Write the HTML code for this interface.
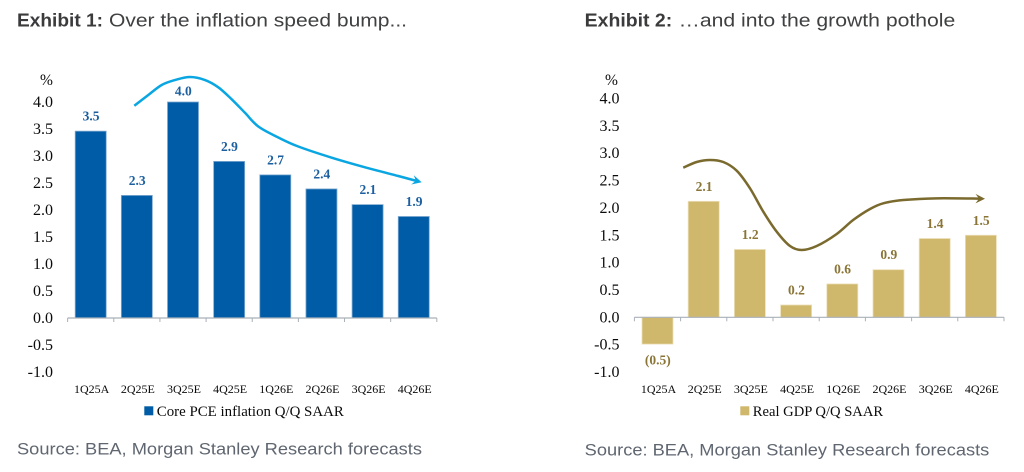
<!DOCTYPE html>
<html lang="en">
<head>
<meta charset="utf-8">
<title>Exhibits 1 and 2</title>
<style>
html,body{margin:0;padding:0;background:#fff;width:1024px;height:472px;overflow:hidden}
svg{display:block}
.title{font-family:"Liberation Sans",sans-serif;font-size:18.5px;fill:#3f4042}
.title-bold{font-weight:700;fill:#3b3b3d}
.source{font-family:"Liberation Sans",sans-serif;font-size:17px;fill:#5f6670}
.serif{font-family:"Liberation Serif",serif;fill:#0b0b0b}
.ytick{font-size:16px}
.cat{font-size:12px}
.legend{font-size:15px}
.val{font-size:13.5px;font-weight:700}
</style>
</head>
<body>
<svg id="root" xmlns="http://www.w3.org/2000/svg" width="1024" height="472" viewBox="0 0 1024 472">
  <g>
    <text class="title title-bold" x="17" y="26.5" textLength="86" lengthAdjust="spacingAndGlyphs">Exhibit 1:</text>
    <text class="title" x="109" y="26.5" textLength="298" lengthAdjust="spacingAndGlyphs">Over the inflation speed bump...</text>
  </g>
  <g>
    <text class="title title-bold" x="584.7" y="26.5" textLength="87.5" lengthAdjust="spacingAndGlyphs">Exhibit 2:</text>
    <text class="title" x="678.7" y="26.5" textLength="276.6" lengthAdjust="spacingAndGlyphs">…and into the growth pothole</text>
  </g>
  <g id="chart1"></g>
  <g id="chart2"></g>
  <text class="source" x="17" y="454.5" textLength="405" lengthAdjust="spacingAndGlyphs">Source: BEA, Morgan Stanley Research forecasts</text>
  <text class="source" x="584.7" y="455.5" textLength="404.6" lengthAdjust="spacingAndGlyphs">Source: BEA, Morgan Stanley Research forecasts</text>
</svg>
<script>
const categories = ['1Q25A','2Q25E','3Q25E','4Q25E','1Q26E','2Q26E','3Q26E','4Q26E'];
const yTickLabels = ['4.0','3.5','3.0','2.5','2.0','1.5','1.0','0.5','0.0','-0.5','-1.0'];
const yTickValues = [4,3.5,3,2.5,2,1.5,1,0.5,0,-0.5,-1];

const inflationValues = [3.46,2.27,4.0,2.9,2.65,2.39,2.1,1.88];
const inflationLabels = ['3.5','2.3','4.0','2.9','2.7','2.4','2.1','1.9'];
const inflationTrendIndex = [0.945,1.248,1.538,1.827,2.152,2.477,2.765,3.055,3.343,3.632,4.065,4.498,5.222,5.944,6.665,7.172];
const inflationTrendValue = [3.931,4.13,4.315,4.407,4.463,4.407,4.272,4.05,3.8,3.546,3.343,3.176,2.969,2.791,2.63,2.513];

const gdpValues = [-0.49,2.12,1.24,0.225,0.61,0.87,1.44,1.5];
const gdpLabels = ['(0.5)','2.1','1.2','0.2','0.6','0.9','1.4','1.5'];
const gdpTrendIndex = [0.558,0.848,1.136,1.424,1.714,2.002,2.29,2.58,2.868,3.121,3.446,3.879,4.238,4.6,4.887,5.32,6.043,7.089];
const gdpTrendValue = [2.735,2.839,2.876,2.839,2.68,2.358,1.931,1.565,1.303,1.23,1.303,1.523,1.78,1.98,2.084,2.144,2.175,2.168];

const NS = 'http://www.w3.org/2000/svg';

function make(parent, tag, attrs, text) {
  const el = document.createElementNS(NS, tag);
  for (const k in attrs) el.setAttribute(k, attrs[k]);
  if (text !== undefined) el.textContent = text;
  parent.appendChild(el);
  return el;
}

function smoothPath(pts) {
  let d = 'M' + pts[0][0].toFixed(2) + ' ' + pts[0][1].toFixed(2);
  for (let i = 0; i < pts.length - 1; i++) {
    const p0 = pts[Math.max(i - 1, 0)], p1 = pts[i], p2 = pts[i + 1], p3 = pts[Math.min(i + 2, pts.length - 1)];
    const c1x = p1[0] + (p2[0] - p0[0]) / 6, c1y = p1[1] + (p2[1] - p0[1]) / 6;
    const c2x = p2[0] - (p3[0] - p1[0]) / 6, c2y = p2[1] - (p3[1] - p1[1]) / 6;
    d += 'C' + c1x.toFixed(2) + ' ' + c1y.toFixed(2) + ' ' + c2x.toFixed(2) + ' ' + c2y.toFixed(2) + ' ' + p2[0].toFixed(2) + ' ' + p2[1].toFixed(2);
  }
  return d;
}

function drawChart(cfg) {
  const g = document.getElementById(cfg.id);
  const xOf = i => cfg.x0 + cfg.step * i;
  const yOf = v => cfg.zeroY - cfg.unit * v;
  const barW = 31;

  const pct = make(g, 'text', {class: 'serif', x: cfg.pctX, y: 85, 'font-size': 15.5}, '%');
  
  

  yTickValues.forEach((v, i) => {
    const t = make(g, 'text', {class: 'serif ytick', x: cfg.tickRight, y: yOf(v) + 5, 'text-anchor': 'end'}, yTickLabels[i]);
    
    
  });

  cfg.values.forEach((v, i) => {
    const top = Math.min(yOf(v), yOf(0));
    const h = Math.abs(yOf(v) - yOf(0));
    const bar = make(g, 'rect', {x: xOf(i) - barW / 2, y: top, width: barW, height: h, fill: cfg.barColor, stroke: cfg.barEdge, 'stroke-width': 0.8});
    
    

    const lift = i === cfg.loweredLabel ? 6.5 : 10.5;
    const labelY = v >= 0 ? yOf(v) - lift : yOf(v) + 20.5;
    const val = make(g, 'text', {class: 'serif val', x: xOf(i) + 0.3, y: labelY, 'text-anchor': 'middle', style: 'fill:' + cfg.valColor}, cfg.labels[i]);
    
    

    const cat = make(g, 'text', {class: 'serif cat', x: xOf(i) + 1, y: 393, 'text-anchor': 'middle'}, categories[i]);
    
    
  });

  const axis = make(g, 'line', {x1: xOf(-0.5), x2: xOf(7.5), y1: yOf(0), y2: yOf(0), stroke: '#a9b0b8', 'stroke-width': 1.2});
  
  
  for (let i = 0; i <= categories.length; i++) {
    const tick = make(g, 'line', {x1: xOf(i - 0.5), x2: xOf(i - 0.5), y1: yOf(0), y2: yOf(0) + 4, stroke: '#a9b0b8', 'stroke-width': 1});
    
    
  }

  const pts = cfg.trendIndex.map((t, i) => [xOf(t), yOf(cfg.trendValue[i])]);
  const end = pts[pts.length - 1], prev = pts[pts.length - 2];
  const ang = Math.atan2(end[1] - prev[1], end[0] - prev[0]);
  const linePts = pts.slice(0, -1).concat([[end[0] - 4 * Math.cos(ang), end[1] - 4 * Math.sin(ang)]]);
  const curve = make(g, 'path', {d: smoothPath(linePts), fill: 'none', stroke: cfg.lineColor, 'stroke-width': 2.5});
  
  

  const headLen = 9.5, headW = 4.8, notch = 6;
  const px = (a, b) => [end[0] - a * Math.cos(ang) - b * Math.sin(ang), end[1] - a * Math.sin(ang) + b * Math.cos(ang)].map(n => n.toFixed(2)).join(',');
  const head = make(g, 'polygon', {points: [px(0, 0), px(headLen, headW), px(notch, 0), px(headLen, -headW)].join(' '), fill: cfg.lineColor});
  
  

  const sw = make(g, 'rect', {x: cfg.legendX, y: 406.3, width: 9, height: 9, fill: cfg.barColor});
  
  
  const lt = make(g, 'text', {class: 'serif legend', x: cfg.legendX + 12.5, y: 416, textLength: cfg.legendW, lengthAdjust: 'spacingAndGlyphs'}, cfg.legend);
  
  
}

drawChart({
  id: 'chart1', x0: 90.7, step: 46.15, zeroY: 318, unit: 54, tickRight: 53, pctX: 40, loweredLabel: 2,
  values: inflationValues, labels: inflationLabels,
  trendIndex: inflationTrendIndex, trendValue: inflationTrendValue,
  barColor: '#005ca6', barEdge: '#7fa9d0', valColor: '#1c5f9f', lineColor: '#0aa6e2',
  legendX: 144.3, legendW: 187, legend: 'Core PCE inflation Q/Q SAAR'
});

drawChart({
  id: 'chart2', x0: 657.5, step: 46.2, zeroY: 317.3, unit: 54.7, tickRight: 619.5, pctX: 605, loweredLabel: -1,
  values: gdpValues, labels: gdpLabels,
  trendIndex: gdpTrendIndex, trendValue: gdpTrendValue,
  barColor: '#cfb76b', barEdge: '#ecdfb8', valColor: '#8a7436', lineColor: '#7b6a2e',
  legendX: 740.3, legendW: 130.3, legend: 'Real GDP Q/Q SAAR'
});
</script>
</body>
</html>
